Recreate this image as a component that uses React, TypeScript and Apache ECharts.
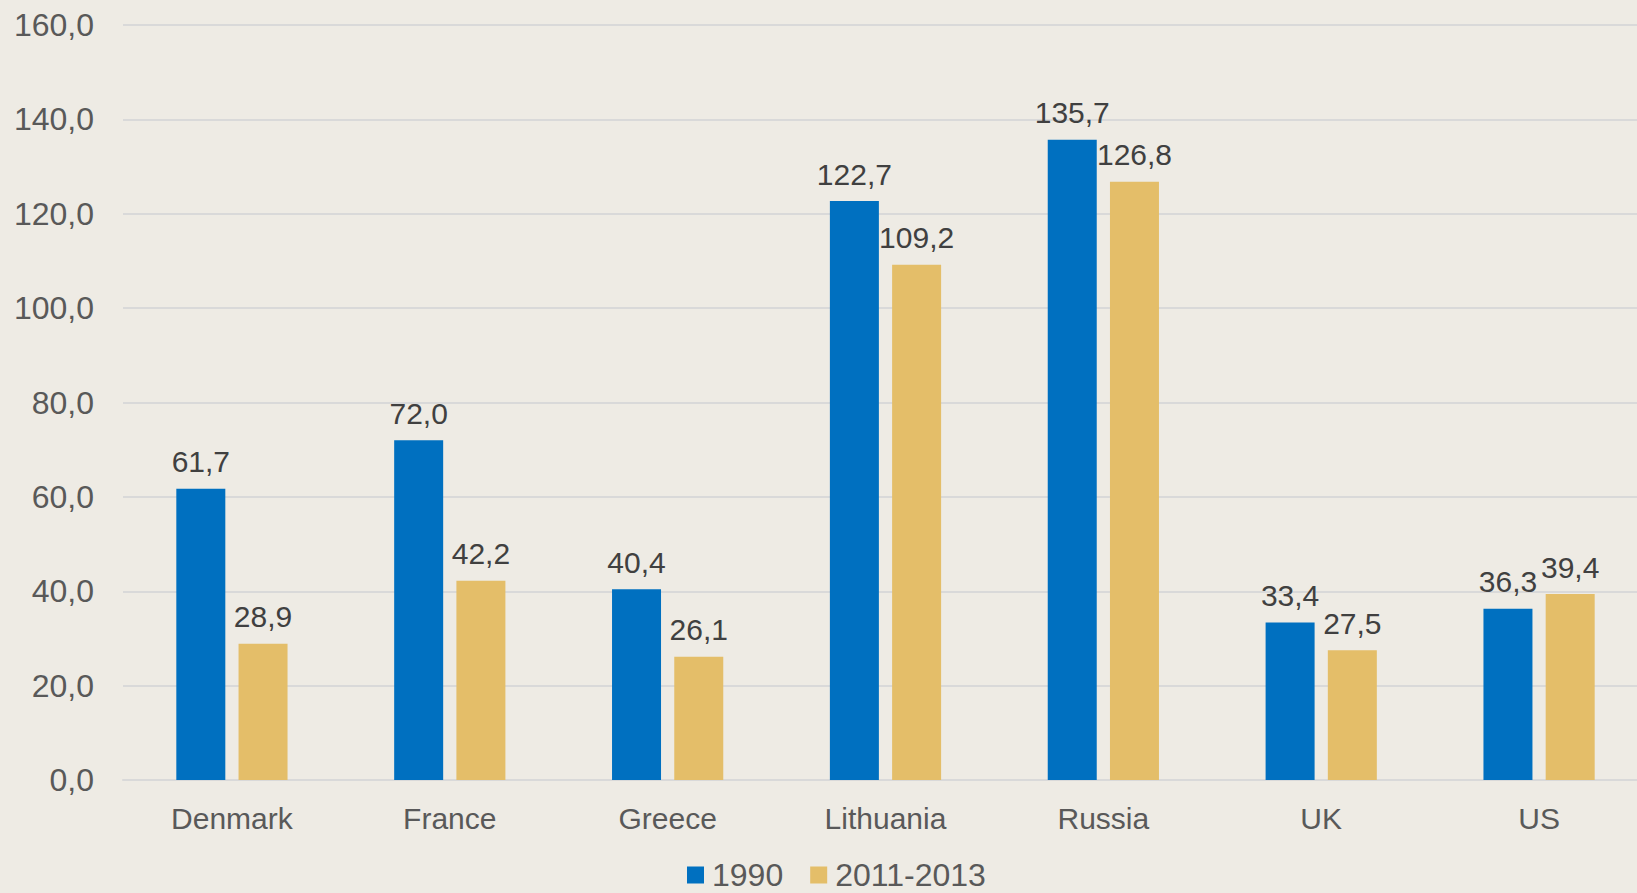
import React, { useEffect, useRef } from "react";
import * as echarts from "echarts";

const categories = ["Denmark", "France", "Greece", "Lithuania", "Russia", "UK", "US"];
const values1990 = [61.7, 72.0, 40.4, 122.7, 135.7, 33.4, 36.3];
const values2011 = [28.9, 42.2, 26.1, 109.2, 126.8, 27.5, 39.4];
const seriesNames = ["1990", "2011-2013"];

const fmt = (v: number) => v.toFixed(1).replace(".", ",");

export default function App() {
  const ref = useRef<HTMLDivElement>(null);
  useEffect(() => {
    if (!ref.current) return;
    const chart = echarts.init(ref.current, null, { renderer: "svg" });
    const font = "'Liberation Sans', Arial, sans-serif";
    const labelCfg = {
      show: true,
      position: "top",
      distance: 12,
      color: "#404040",
      fontSize: 30,
      fontFamily: font,
      formatter: (p: any) => fmt(p.value),
    };
    chart.setOption({
      animation: false,
      backgroundColor: "#EEEBE4",
      grid: { left: 123, right: 0, top: 25, bottom: 113, containLabel: false },
      legend: {
        data: seriesNames,
        left: 687,
        top: 859,
        padding: 0,
        itemWidth: 17,
        itemHeight: 17,
        itemGap: 27,
        icon: "rect",
        textStyle: { fontSize: 32, color: "#595959", fontFamily: font, padding: [0, 0, 0, 3] },
      },
      xAxis: {
        type: "category",
        data: categories,
        axisTick: { show: false },
        axisLine: { lineStyle: { color: "#D9D9D9", width: 2 } },
        axisLabel: { color: "#595959", fontSize: 30, fontFamily: font, margin: 23 },
      },
      yAxis: {
        type: "value",
        min: 0,
        max: 160,
        interval: 20,
        axisLabel: {
          color: "#595959",
          fontSize: 32,
          fontFamily: font,
          margin: 29,
          formatter: (v: number) => fmt(v),
        },
        splitLine: { lineStyle: { color: "#D9D9D9", width: 2 } },
      },
      series: [
        {
          name: seriesNames[0],
          type: "bar",
          data: values1990,
          barWidth: 49,
          barGap: "27%",
          itemStyle: { color: "#0070C0" },
          label: labelCfg,
        },
        {
          name: seriesNames[1],
          type: "bar",
          data: values2011,
          barWidth: 49,
          itemStyle: { color: "#E4BE69" },
          label: labelCfg,
        },
      ],
    });
    return () => chart.dispose();
  }, []);
  return (
    <div
      ref={ref}
      style={{ position: "fixed", left: 0, top: 0, width: 1648, height: 893 }}
    />
  );
}
